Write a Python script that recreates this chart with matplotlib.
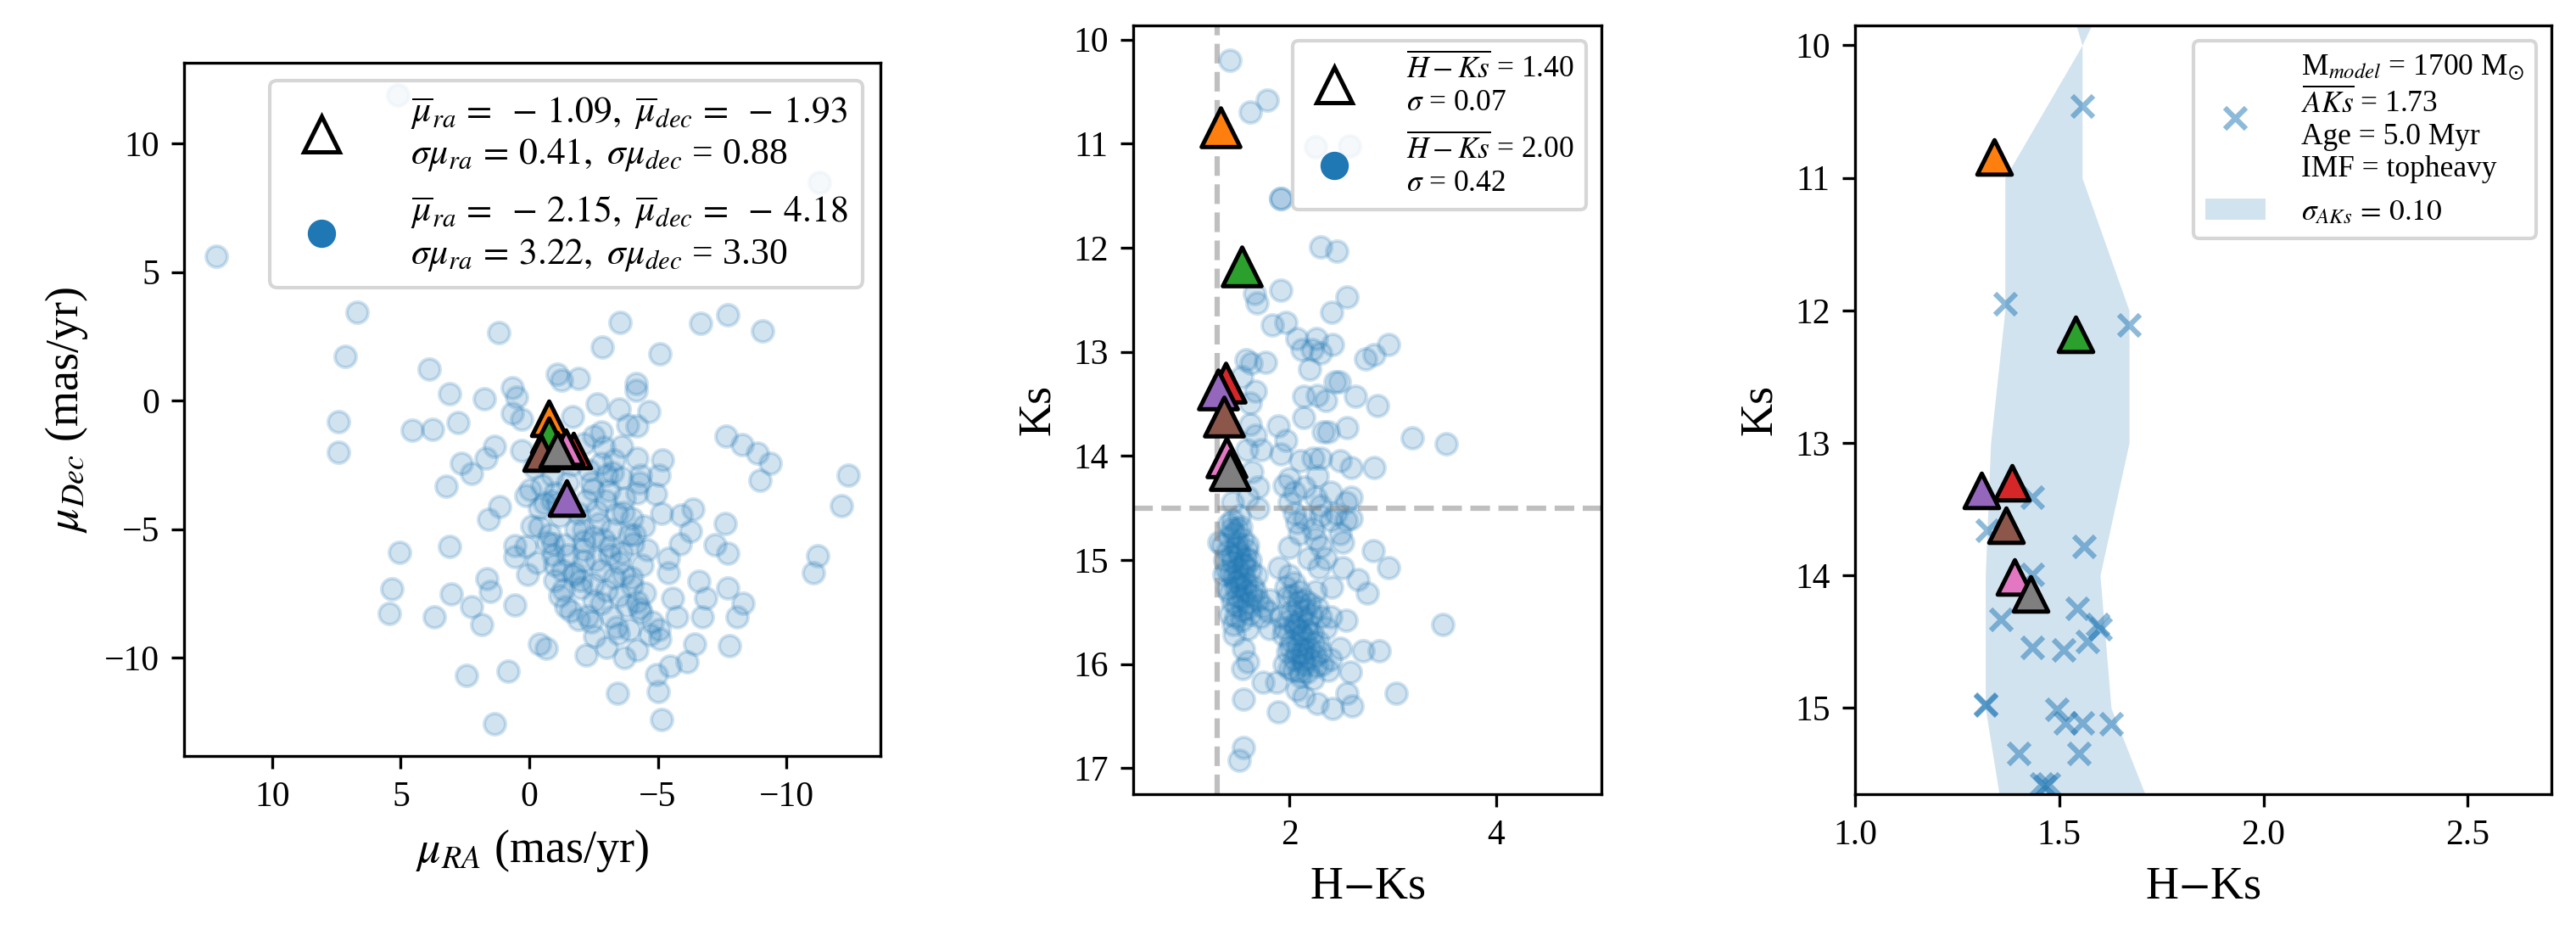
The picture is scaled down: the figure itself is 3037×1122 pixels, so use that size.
import matplotlib
matplotlib.use('Agg')
import matplotlib.pyplot as plt
from matplotlib.lines import Line2D
from matplotlib.patches import Patch

plt.rcParams['font.family'] = ['Liberation Serif', 'DejaVu Serif']
plt.rcParams['mathtext.fontset'] = 'stix'

# ---------------- data ----------------
# Panel 1: proper motions of field stars (mas/yr)
pm_ra = [6.69, 1.20, -3.53, -6.66, -7.71, -9.06, 7.16, 3.88, -2.84, -5.07,
         -1.08, -1.25, -1.91, -4.15, -4.15, 3.10, 1.75, 0.65, 0.51, -2.63,
         -3.50, -4.65, 0.65, 0.31, -1.68, 7.42, 4.55, 3.76, 2.76, -2.80,
         -3.84, -4.19, 7.42, 1.34, 1.69, 2.64, 2.24, 0.31, 3.24, -2.11,
         -3.58, -4.19, -5.19, -5.05, -4.33, -7.64, -8.28, -8.88, -9.37, -8.99,
         -12.42, -12.13, -2.80, -3.24, -0.04, 0.13, -2.46, -2.98, -4.91, 1.17,
         1.60, -3.67, -5.14, -5.91, -6.38, -7.61, -6.26, -5.88, -7.21, -7.73,
         -11.23, -11.04, -0.39, -2.11, -4.45, 5.05, 3.10, 0.56, 0.13, -0.91,
         -2.11, -3.15, -4.01, 0.56, -0.91, -2.11, -3.15, -5.40, 0.05, -1.77,
         -3.67, -5.40, -6.60, 1.64, 1.52, 5.35, 3.02, -1.33, -2.46, -4.19,
         -5.57, -6.86, -7.73, -8.30, 5.43, 3.71, 2.24, 1.86, 0.56, -1.42,
         -2.29, -4.36, -5.74, -6.74, -8.07, -2.55, -3.46, -0.39, -0.65, -4.19,
         -5.08, -5.05, -6.43, -7.78, -5.48, -6.14, -4.96, 2.45, 0.82, -3.43,
         -5.02, 1.34, -5.14, 12.19, 5.13, -11.29,
         -0.5, -1.0, -1.5, -2.2, -2.6, -3.1, -3.6, -1.2, -1.8, -2.5,
         -3.2, -0.8, -1.5, -2.8, -3.5, -2.0, -3.0, -4.0, -1.0, -2.5,
         -3.8, -4.5, -0.3, -1.3, -4.6, -3.9, -2.3, -3.3, -1.7, -2.9,
         -0.6, -4.2, -4.0, -1.9, -3.4, -4.8,
         -0.2, -0.9, -1.6, -2.4, -3.0, -3.7, -4.3, -0.4, -1.1, -1.9,
         -2.7, -3.4, -4.1, -0.7, -1.4, -2.1, -2.9, -3.6, -4.4, -1.0,
         -1.7, -2.6, -3.3, -4.0, -1.2, -2.0, -2.8, -3.5, -4.3, -1.6,
         -2.4, -3.2, -3.9, -4.7, -2.2, -3.0, -3.7, -0.1, -0.9, -2.5]
pm_dec = [3.43, 2.63, 3.04, 2.99, 3.32, 2.70, 1.73, 1.23, 2.07, 1.81,
          1.03, 0.78, 0.87, 0.67, 0.39, 0.25, 0.06, 0.51, 0.12, -0.14,
          -0.33, -0.42, -0.50, -0.72, -0.64, -0.84, -1.17, -1.11, -0.87, -1.22,
          -0.95, -1.00, -2.00, -1.78, -2.23, -2.45, -2.84, -1.95, -3.34, -1.67,
          -1.78, -2.23, -2.31, -2.90, -2.90, -1.39, -1.73, -2.06, -2.45, -3.10,
          -2.90, -4.09, -2.45, -2.79, -3.46, -3.68, -3.46, -3.90, -3.62, -4.13,
          -4.63, -4.35, -4.40, -4.46, -4.24, -4.77, -5.07, -5.58, -5.61, -5.93,
          -6.05, -6.69, -4.91, -5.02, -4.88, -5.91, -5.69, -5.63, -5.69, -5.58,
          -5.47, -5.69, -5.58, -6.08, -6.02, -6.25, -6.02, -6.13, -6.75, -6.69,
          -6.75, -6.69, -7.03, -6.94, -7.42, -7.34, -7.53, -7.36, -7.14, -7.81,
          -7.70, -7.70, -7.31, -7.89, -8.28, -8.40, -8.03, -8.70, -7.95, -8.03,
          -8.37, -8.26, -8.42, -8.42, -8.42, -9.17, -9.09, -9.48, -9.65, -9.71,
          -9.26, -8.92, -9.48, -9.54, -10.32, -10.17, -10.65, -10.71, -10.54, -11.38,
          -11.32, -12.59, -12.42, 5.61, 11.9, 8.49,
          -3.3, -3.6, -3.2, -3.9, -4.3, -3.5, -3.0, -4.5, -5.0, -5.3,
          -5.0, -5.2, -6.0, -6.6, -6.3, -7.0, -7.4, -6.9, -7.0, -7.8,
          -8.0, -7.5, -6.3, -6.6, -5.8, -5.2, -2.7, -2.3, -2.2, -1.8,
          -4.0, -3.6, -4.6, -8.5, -8.8, -8.6,
          -2.6, -2.9, -2.5, -3.2, -2.9, -3.8, -3.2, -4.2, -4.0, -4.4,
          -4.8, -4.4, -5.2, -5.5, -5.6, -5.8, -5.4, -5.9, -6.4, -6.4,
          -6.8, -6.2, -6.9, -7.2, -7.6, -7.3, -7.9, -7.6, -8.1, -8.2,
          -8.6, -8.4, -8.9, -9.1, -9.9, -9.6, -10.0, -4.9, -3.9, -1.4]

# Panel 2: colour-magnitude diagram of field stars
field_hk = [1.43, 1.62, 1.79, 2.25, 2.58, 1.92, 1.92, 2.30, 2.46, 1.92,
            1.66, 1.69, 2.56, 2.41, 1.84, 1.97, 2.07, 2.26, 2.42, 2.12,
            2.22, 2.30, 2.20, 2.74, 2.82, 2.96, 1.58, 1.63, 1.77, 1.67,
            1.54, 1.62, 2.14, 2.27, 2.35, 2.44, 2.48, 2.64, 2.85, 2.14,
            1.89, 1.97, 2.33, 2.38, 2.56, 1.62, 1.67, 1.59, 1.73, 1.92,
            2.11, 2.23, 2.30, 2.49, 2.60, 2.82, 3.19, 3.52, 1.64, 2.00,
            2.27,
            1.70, 1.45, 2.07, 2.00, 2.23, 2.30, 2.49, 2.52, 2.35, 2.19,
            2.29, 2.52, 2.81, 2.96, 2.66, 2.75, 2.41, 1.90, 1.81, 2.55,
            2.40, 2.49, 2.71, 2.87, 2.59, 3.48, 3.03, 2.56, 2.61, 2.42,
            2.27, 2.14, 2.07, 1.88, 1.75, 1.89, 1.56, 1.55, 1.60, 1.56,
            1.47, 1.56, 1.52, 1.32, 1.37, 1.43, 1.81, 2.00, 2.38,
            1.45, 1.50, 1.42, 1.55, 1.48, 1.40, 1.52, 1.58, 1.45, 1.50,
            1.43, 1.56, 1.62, 1.48, 1.53, 1.40, 1.58, 1.65, 1.50, 1.45,
            1.60, 1.70, 1.55, 1.48, 1.62, 1.75, 1.38, 1.44, 1.52, 1.60,
            1.35, 1.68, 1.72, 1.80,
            2.00, 2.05, 2.10, 1.98, 2.15, 2.08, 2.20, 2.02, 2.12, 2.18,
            2.05, 1.95, 2.10, 2.22, 2.15, 2.02, 2.08, 2.20, 2.12, 2.25,
            1.98, 2.05, 2.15, 2.28, 2.30, 1.92, 2.10, 1.95, 2.25, 2.35,
            2.32, 2.40,
            1.95, 2.05, 2.15, 2.25, 2.40, 2.55, 2.60, 2.00, 2.30, 1.70,
            1.60, 2.05, 2.15, 2.30, 2.40, 2.45, 2.55, 2.10, 2.25, 2.60,
            1.41, 1.47, 1.53, 1.59, 1.44, 1.50, 1.56, 1.62, 1.39, 1.46,
            1.52, 1.58, 1.64, 1.43, 1.49, 1.55, 1.61, 1.67, 1.46, 1.54,
            1.60, 1.51, 1.57, 1.48,
            1.97, 2.03, 2.09, 2.15, 2.21, 2.27, 2.00, 2.06, 2.12, 2.18,
            2.24, 2.30, 1.94, 2.01, 2.07, 2.13, 2.19, 2.26, 2.04, 2.11,
            2.17, 2.23, 2.08, 2.14]
field_ks = [10.20, 10.70, 10.58, 11.03, 11.02, 11.53, 11.53, 11.99, 12.03, 12.41,
            12.44, 12.53, 12.47, 12.62, 12.74, 12.72, 12.87, 12.87, 12.93, 12.98,
            12.98, 13.01, 13.17, 13.07, 13.03, 12.93, 13.08, 13.11, 13.10, 13.38,
            13.24, 13.49, 13.43, 13.42, 13.47, 13.29, 13.29, 13.43, 13.52, 13.63,
            13.71, 13.85, 13.77, 13.77, 13.73, 13.70, 13.80, 13.94, 13.94, 13.98,
            14.05, 14.02, 14.02, 14.05, 14.11, 14.11, 13.83, 13.88, 14.15, 14.22,
            14.19,
            14.50, 14.45, 14.64, 14.88, 14.70, 14.87, 14.75, 14.83, 14.98, 14.98,
            15.07, 15.07, 14.91, 15.07, 15.19, 15.32, 15.26, 15.07, 15.38, 15.58,
            15.55, 15.85, 15.87, 15.87, 16.08, 15.62, 16.28, 16.28, 16.40, 16.43,
            16.38, 16.31, 16.25, 16.17, 16.17, 16.46, 16.34, 16.04, 15.98, 15.86,
            15.72, 16.80, 16.92, 14.83, 15.14, 15.52, 15.66, 16.04, 16.06,
            14.62, 14.70, 14.78, 14.80, 14.88, 14.92, 14.95, 14.98, 15.02, 15.08,
            15.12, 15.15, 15.10, 15.20, 15.25, 15.28, 15.30, 15.25, 15.35, 15.40,
            15.42, 15.38, 15.48, 15.55, 15.52, 15.45, 15.00, 14.70, 14.58, 14.85,
            14.85, 15.15, 15.55, 15.50,
            15.15, 15.22, 15.30, 15.35, 15.38, 15.45, 15.42, 15.50, 15.55, 15.60,
            15.62, 15.65, 15.68, 15.70, 15.75, 15.78, 15.82, 15.85, 15.90, 15.92,
            15.88, 15.95, 16.00, 15.78, 15.55, 15.55, 16.08, 16.00, 15.30, 15.65,
            16.00, 15.95,
            14.28, 14.35, 14.30, 14.40, 14.35, 14.45, 14.40, 14.45, 14.48, 14.30,
            14.40, 14.55, 14.60, 14.58, 14.62, 14.55, 14.62, 14.75, 14.80, 14.60,
            14.66, 14.74, 14.68, 14.90, 14.96, 14.84, 15.04, 15.00, 15.10, 15.16,
            15.18, 15.22, 15.34, 15.32, 15.44, 15.36, 15.46, 15.30, 15.62, 15.58,
            15.66, 14.92, 15.06, 15.26,
            15.26, 15.34, 15.40, 15.48, 15.52, 15.46, 15.58, 15.66, 15.72, 15.68,
            15.80, 15.88, 15.72, 15.84, 15.90, 15.96, 15.94, 16.02, 16.06, 16.12,
            16.08, 16.14, 15.60, 15.86]

# Cluster candidates (7 stars, same in all panels)
star_ra = [-0.77, -0.77, -1.73, -1.46, -0.47, -1.42, -1.08]
star_dec = [-0.69, -1.36, -1.95, -3.81, -2.03, -1.81, -1.92]
star_hk = [1.34, 1.54, 1.385, 1.31, 1.37, 1.39, 1.43]
star_ks = [10.84, 12.18, 13.30, 13.36, 13.62, 14.01, 14.14]
star_colors = ['C1', 'C2', 'C3', 'C4', 'C5', 'C6', 'C7']

# Panel 3: synthetic cluster model
model_hk = [1.556, 1.367, 1.671, 1.433, 1.323, 1.433, 1.561, 1.545, 1.357, 1.593,
            1.600, 1.568, 1.433, 1.511, 1.319, 1.319, 1.494, 1.515, 1.556, 1.627,
            1.401, 1.548, 1.456, 1.474, 1.465]
model_ks = [10.46, 11.95, 12.11, 13.41, 13.66, 13.99, 13.78, 14.25, 14.33, 14.37,
            14.40, 14.50, 14.54, 14.56, 14.97, 14.98, 15.01, 15.11, 15.11, 15.12,
            15.34, 15.34, 15.57, 15.57, 15.59]
band_ks = [9, 10, 11, 12, 13, 14, 15, 16]
band_left = [1.46, 1.556, 1.367, 1.367, 1.332, 1.319, 1.319, 1.371]
band_right = [1.71, 1.556, 1.556, 1.671, 1.671, 1.600, 1.627, 1.755]

# cuts
hk_cut = 1.30
ks_cut = 14.5

leg1_labels = [r'$\overline{\mu}_{ra}\,=\ -\,1.09,\ \overline{\mu}_{dec}\,=\ -\,1.93$' + '\n'
               + r'$\sigma\mu_{ra}\,=\,0.41,\ \sigma\mu_{dec}$ = 0.88',
               r'$\overline{\mu}_{ra}\,=\ -\,2.15,\ \overline{\mu}_{dec}\,=\ -\,4.18$' + '\n'
               + r'$\sigma\mu_{ra}\,=\,3.22,\ \sigma\mu_{dec}$ = 3.30']
leg2_labels = [r'$\overline{H-Ks}$ = 1.40' + '\n' + r'$\sigma$ = 0.07',
               r'$\overline{H-Ks}$ = 2.00' + '\n' + r'$\sigma$ = 0.42']
leg3_labels = [r'M$_{model}$ = 1700 M$_{\odot}$' + '\n' + r'$\overline{AKs}$ = 1.73' + '\n'
               + 'Age = 5.0 Myr' + '\n' + 'IMF = topheavy',
               r'$\sigma_{AKs}\,=\,0.10$']

# ---------------- figure ----------------
W, H = 3037, 1122
fig = plt.figure(figsize=(W / 300, H / 300), dpi=300)
ax1 = fig.add_axes([217 / W, 1 - 891 / H, 821 / W, 817 / H])
ax2 = fig.add_axes([1336 / W, 1 - 936 / H, 552 / W, 906 / H])
ax3 = fig.add_axes([2187 / W, 1 - 936 / H, 821 / W, 906 / H])

tri_kw = dict(marker='^', s=95, edgecolors='black', linewidths=1.2, zorder=3)

# Panel 1
ax1.scatter(pm_ra, pm_dec, color='C0', alpha=0.2, s=36)
for x, y, c in zip(star_ra, star_dec, star_colors):
    ax1.scatter([x], [y], color=c, **tri_kw)
ax1.set_xlim(13.43, -13.66)
ax1.set_ylim(-13.83, 13.14)
ax1.set_xticks([10, 5, 0, -5, -10])
ax1.set_yticks([10, 5, 0, -5, -10])
ax1.set_xlabel(r'$\mu_{RA}$ (mas/yr)', fontsize=13)
ax1.set_ylabel(r'$\mu_{Dec}$ (mas/yr)', fontsize=13)
h_tri = Line2D([], [], marker='^', linestyle='none', markersize=10,
               markerfacecolor='white', markeredgecolor='black', markeredgewidth=1.2)
h_dot = Line2D([], [], marker='o', linestyle='none', markersize=7,
               markerfacecolor='C0', markeredgecolor='C0')
ax1.legend([h_tri, h_dot], leg1_labels, loc='upper right', fontsize=10.5,
           handletextpad=1.4, labelspacing=0.55, borderaxespad=0.47)

# Panel 2
ax2.scatter(field_hk, field_ks, color='C0', alpha=0.2, s=36)
ax2.axvline(hk_cut, color='gray', alpha=0.5, linestyle='--', lw=1.5)
ax2.axhline(ks_cut, color='gray', alpha=0.5, linestyle='--', lw=1.5)
for x, y, c in zip(star_hk, star_ks, star_colors):
    ax2.scatter([x], [y], color=c, marker='^', s=120, edgecolors='black',
                linewidths=1.2, zorder=3)
ax2.set_xlim(0.492, 5.016)
ax2.set_ylim(17.25, 9.865)
ax2.set_xticks([2, 4])
ax2.set_yticks([10, 11, 12, 13, 14, 15, 16, 17])
ax2.set_xlabel('H$-$Ks', fontsize=13)
ax2.set_ylabel('Ks', fontsize=13)
ax2.legend([h_tri, h_dot], leg2_labels, loc='upper right', fontsize=8.5,
           handletextpad=1.4, labelspacing=0.55)

# Panel 3
ax3.fill_betweenx(band_ks, band_left, band_right, color='C0', alpha=0.2, linewidth=0)
ax3.scatter(model_hk, model_ks, color='C0', marker='x', alpha=0.5, s=36, linewidths=1.5)
for x, y, c in zip(star_hk, star_ks, star_colors):
    ax3.scatter([x], [y], color=c, **tri_kw)
ax3.set_xlim(1.0, 2.705)
ax3.set_ylim(15.65, 9.85)
ax3.set_xticks([1.0, 1.5, 2.0, 2.5])
ax3.set_yticks([10, 11, 12, 13, 14, 15])
ax3.set_xlabel('H$-$Ks', fontsize=13)
ax3.set_ylabel('Ks', fontsize=13)
h_x = Line2D([], [], marker='x', linestyle='none', markersize=6, color='C0',
             alpha=0.5, markeredgewidth=1.5)
h_band = Patch(facecolor='C0', alpha=0.2, edgecolor='none')
ax3.legend([h_x, h_band], leg3_labels, loc='upper right', fontsize=8.5,
           handletextpad=1.2)

for ax in (ax1, ax2, ax3):
    ax.tick_params(labelsize=10)

fig.savefig('out.png', dpi=300)
